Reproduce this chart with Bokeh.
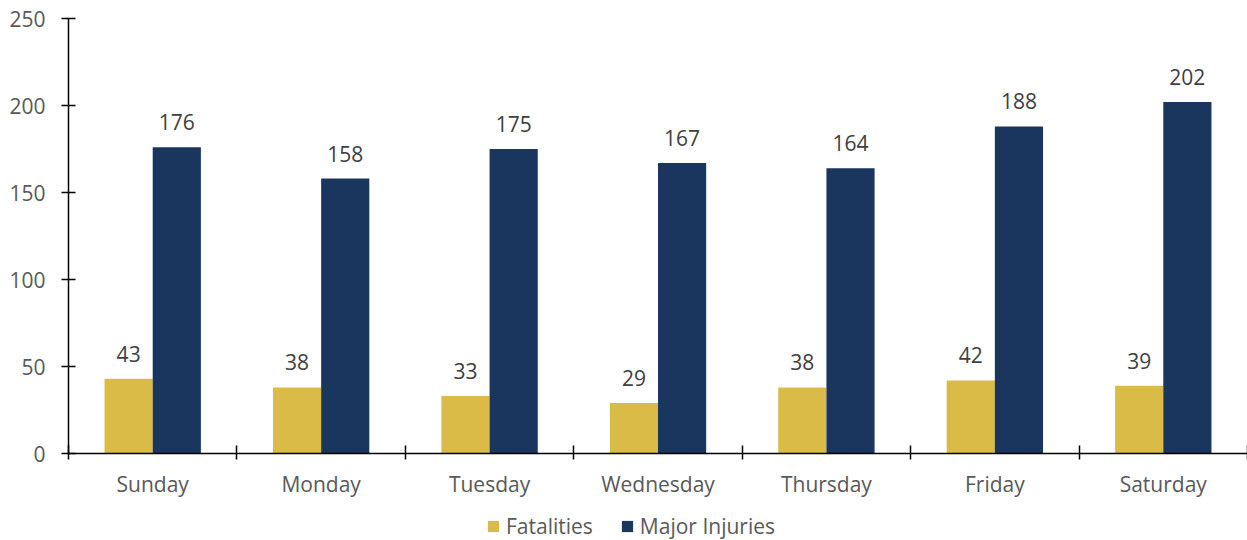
from bokeh.plotting import figure
from bokeh.layouts import column
from bokeh.models import Range1d, FixedTicker, Legend, LegendItem, ColumnDataSource
from bokeh.embed import file_html
from bokeh.resources import INLINE
from bokeh.core.properties import value

days = ["Sunday", "Monday", "Tuesday", "Wednesday", "Thursday", "Friday", "Saturday"]
fatalities = [43, 38, 33, 29, 38, 42, 39]
major_injuries = [176, 158, 175, 167, 164, 188, 202]
y_ticks = [0, 50, 100, 150, 200, 250]
series_names = ["Fatalities", "Major Injuries"]

GOLD = "#DBBB48"
NAVY = "#1A355E"
FONT = "Open Sans"
FS = "21px"

centers = [i + 0.5 for i in range(len(days))]
bw = 0.286
src = ColumnDataSource(dict(
    xf=[c - bw / 2 for c in centers],
    xm=[c + bw / 2 for c in centers],
    fat=fatalities,
    maj=major_injuries,
    fat_t=[str(v) for v in fatalities],
    maj_t=[str(v) for v in major_injuries],
))

p = figure(width=1247, height=500, output_backend="svg", toolbar_location=None,
           x_range=Range1d(0, len(days)), y_range=Range1d(0, 250),
           min_border_left=68, min_border_right=0, min_border_top=18,
           min_border_bottom=47)
p.outline_line_color = None
p.xgrid.visible = False
p.ygrid.visible = False

p.vbar(x="xf", top="fat", width=bw, source=src, fill_color=GOLD, line_color=None)
p.vbar(x="xm", top="maj", width=bw, source=src, fill_color=NAVY, line_color=None)

for xcol, ycol, tcol in [("xf", "fat", "fat_t"), ("xm", "maj", "maj_t")]:
    p.text(x=xcol, y=ycol, text=tcol, source=src, text_align="center",
           text_baseline="alphabetic", y_offset=-25, text_color="#404040",
           text_font=value(FONT), text_font_size=FS)

# y axis
ya = p.yaxis[0]
ya.ticker = FixedTicker(ticks=y_ticks)
ya.axis_line_color = "black"
ya.axis_line_width = 1.5
ya.major_tick_line_color = "black"
ya.major_tick_line_width = 1.5
ya.major_tick_in = 7
ya.major_tick_out = 7
ya.minor_tick_line_color = None
ya.major_label_standoff = 16
ya.major_label_text_color = "#595959"
ya.major_label_text_font = FONT
ya.major_label_text_font_size = FS

# x axis
xa = p.xaxis[0]
xa.ticker = FixedTicker(ticks=centers, minor_ticks=list(range(len(days) + 1)))
xa.major_label_overrides = {c: d for c, d in zip(centers, days)}
xa.axis_line_color = "black"
xa.axis_line_width = 1.5
xa.major_tick_in = 0
xa.major_tick_out = 0
xa.minor_tick_line_color = "black"
xa.minor_tick_line_width = 1.5
xa.minor_tick_in = 8
xa.minor_tick_out = 6
xa.major_label_standoff = 10
xa.major_label_text_color = "#595959"
xa.major_label_text_font = FONT
xa.major_label_text_font_size = FS

# legend strip below the chart; its renderers hold the same data but the
# strip's ranges keep them entirely out of view, so only the swatches show
lg = figure(width=1247, height=40, output_backend="svg", toolbar_location=None,
            x_axis_type=None, y_axis_type=None,
            x_range=Range1d(-100, -93), y_range=Range1d(1000, 1010),
            min_border_left=0, min_border_right=0, min_border_top=0, min_border_bottom=0)
lg.outline_line_color = None
lg.xgrid.visible = False
lg.ygrid.visible = False
lr1 = lg.vbar(x="xf", top="fat", width=bw, source=src, fill_color=GOLD, line_color=None)
lr2 = lg.vbar(x="xm", top="maj", width=bw, source=src, fill_color=NAVY, line_color=None)

legend = Legend(items=[LegendItem(label=series_names[0], renderers=[lr1]),
                       LegendItem(label=series_names[1], renderers=[lr2])],
                orientation="horizontal", location=(418, 0),
                label_text_font=FONT, label_text_font_size=FS,
                label_text_color="#595959", glyph_width=14, glyph_height=14,
                label_standoff=6, spacing=27, padding=0, margin=0,
                border_line_color=None, background_fill_alpha=0)
lg.add_layout(legend, "center")

layout = column(p, lg, spacing=0)
open("out.html", "w").write(file_html(layout, INLINE))
